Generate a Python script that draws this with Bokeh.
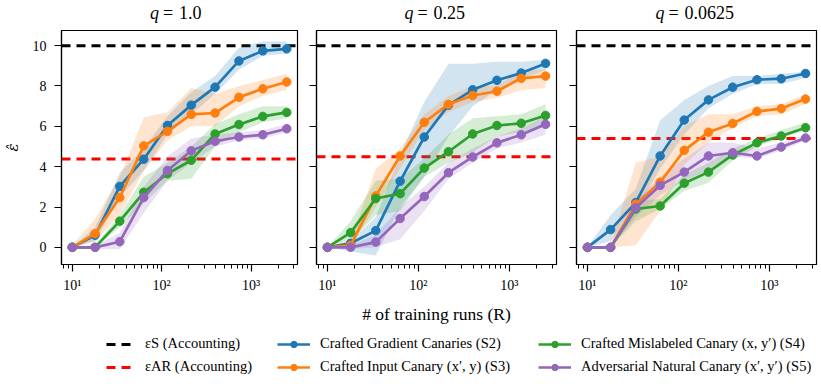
import math
from bokeh.plotting import figure
from bokeh.models import Range1d, FixedTicker, LogTicker, Span, Legend, LegendItem
from bokeh.core.properties import value
from bokeh.layouts import row, column
from bokeh.embed import file_html
from bokeh.resources import INLINE

# ---------------- data ----------------
runs = [10, 18, 34, 63, 116, 214, 395, 730, 1350, 2500]
q_labels = ["1.0", "0.25", "0.0625"]
eps_s = 10.0
eps_ar = [4.38, 4.49, 5.39]
y_ticks = [0, 2, 4, 6, 8, 10]

series_names = [
    "Crafted Gradient Canaries (S2)",
    "Crafted Input Canary (x′, y) (S3)",
    "Crafted Mislabeled Canary (x, y′) (S4)",
    "Adversarial Natural Canary (x′, y′) (S5)",
]
line_names = ["εS (Accounting)", "εAR (Accounting)"]
colors = ["#1f77b4", "#ff7f0e", "#2ca02c", "#9467bd"]

# q = 1.0
grad_q1 = [0, 0.60, 3.02, 4.37, 6.04, 7.05, 7.94, 9.24, 9.74, 9.84]
grad_q1_lo = [0, 0.30, 2.50, 3.80, 5.60, 6.60, 7.60, 8.80, 9.50, 9.60]
grad_q1_hi = [0, 1.00, 3.70, 4.90, 6.50, 7.70, 8.50, 9.90, 10.20, 10.20]
inp_q1 = [0, 0.68, 2.47, 5.03, 5.75, 6.59, 6.66, 7.44, 7.86, 8.20]
inp_q1_lo = [0, 0.30, 1.60, 3.80, 5.30, 6.00, 6.00, 7.00, 7.50, 7.80]
inp_q1_hi = [0.1, 1.40, 3.50, 6.45, 6.70, 7.90, 7.60, 8.00, 8.30, 8.60]
mis_q1 = [0, 0.0, 1.30, 2.73, 3.65, 4.32, 5.62, 6.09, 6.49, 6.69]
mis_q1_lo = [0, 0, 1.00, 2.20, 3.30, 3.40, 5.00, 5.70, 6.20, 6.40]
mis_q1_hi = [0, 0.1, 1.60, 3.50, 4.20, 5.00, 6.10, 6.60, 7.00, 7.00]
adv_q1 = [0, 0, 0.28, 2.47, 3.81, 4.79, 5.26, 5.47, 5.58, 5.88]
adv_q1_lo = [0, -0.1, -0.1, 1.70, 3.30, 4.20, 5.00, 5.30, 5.40, 5.70]
adv_q1_hi = [0, 0.1, 0.70, 3.00, 4.50, 5.40, 5.60, 5.70, 5.80, 6.10]

# q = 0.25
grad_q2 = [0, 0.20, 0.83, 3.28, 5.47, 7.05, 7.81, 8.28, 8.64, 9.12]
grad_q2_lo = [0, -0.2, -0.4, 2.00, 3.50, 5.50, 7.00, 7.80, 8.30, 8.80]
grad_q2_hi = [0, 0.3, 1.50, 4.60, 7.20, 9.10, 9.10, 9.20, 9.20, 9.30]
inp_q2 = [0, 0.10, 2.55, 4.53, 6.20, 7.09, 7.53, 7.74, 8.38, 8.49]
inp_q2_lo = [0, 0, 2.00, 3.90, 5.80, 6.70, 7.20, 7.40, 7.80, 7.90]
inp_q2_hi = [0, 0.3, 3.90, 4.90, 6.60, 7.50, 8.00, 8.00, 8.80, 8.80]
mis_q2 = [0, 0.73, 2.42, 2.66, 3.93, 4.74, 5.62, 6.04, 6.15, 6.54]
mis_q2_lo = [0, 0.30, 1.60, 1.80, 3.50, 4.20, 4.70, 5.50, 5.70, 6.00]
mis_q2_hi = [0, 1.30, 3.30, 3.40, 4.40, 5.60, 6.40, 6.50, 6.60, 7.10]
adv_q2 = [0, 0, 0.26, 1.43, 2.52, 3.70, 4.48, 5.18, 5.58, 6.10]
adv_q2_lo = [0, -0.1, 0, 0.40, 1.80, 3.40, 4.20, 4.90, 5.20, 5.60]
adv_q2_hi = [0, 0.1, 0.60, 2.00, 3.00, 4.20, 4.90, 5.50, 5.90, 6.50]

# q = 0.0625
grad_q3 = [0, 0.88, 2.22, 4.53, 6.31, 7.31, 7.94, 8.31, 8.36, 8.62]
grad_q3_lo = [0, 0.30, 1.80, 3.90, 5.60, 6.90, 7.60, 8.10, 8.10, 8.40]
grad_q3_hi = [0, 1.60, 2.90, 6.30, 7.30, 8.00, 8.50, 8.50, 8.60, 8.70]
inp_q3 = [0, 0, 2.14, 3.23, 4.81, 5.71, 6.14, 6.74, 6.88, 7.35]
inp_q3_lo = [0, 0, 0.10, 1.80, 4.10, 5.20, 5.90, 6.50, 6.60, 7.10]
inp_q3_hi = [0, 0.1, 4.20, 4.50, 6.00, 6.60, 6.60, 7.00, 7.10, 7.60]
mis_q3 = [0, 0, 1.90, 2.05, 3.18, 3.73, 4.58, 5.18, 5.52, 5.93]
mis_q3_lo = [0, 0, 1.30, 1.90, 2.80, 3.20, 4.30, 5.00, 5.40, 5.80]
mis_q3_hi = [0, 0, 2.30, 2.40, 3.60, 4.20, 4.90, 5.40, 5.80, 6.20]
adv_q3 = [0, 0, 1.96, 3.07, 3.73, 4.53, 4.69, 4.53, 4.97, 5.42]
adv_q3_lo = [0, 0, 1.50, 2.60, 3.30, 3.80, 4.50, 4.40, 4.80, 5.30]
adv_q3_hi = [0, 0.1, 2.30, 3.50, 4.40, 5.20, 5.20, 4.90, 5.20, 5.60]

panels = [
    [(grad_q1, grad_q1_lo, grad_q1_hi), (inp_q1, inp_q1_lo, inp_q1_hi),
     (mis_q1, mis_q1_lo, mis_q1_hi), (adv_q1, adv_q1_lo, adv_q1_hi)],
    [(grad_q2, grad_q2_lo, grad_q2_hi), (inp_q2, inp_q2_lo, inp_q2_hi),
     (mis_q2, mis_q2_lo, mis_q2_hi), (adv_q2, adv_q2_lo, adv_q2_hi)],
    [(grad_q3, grad_q3_lo, grad_q3_hi), (inp_q3, inp_q3_lo, inp_q3_hi),
     (mis_q3, mis_q3_lo, mis_q3_hi), (adv_q3, adv_q3_lo, adv_q3_hi)],
]

# ---------------- style ----------------
FONT = "Liberation Serif"
LX0, LX1 = 0.88, 3.518
X0, X1 = 10 ** LX0, 10 ** LX1
Y0, Y1 = -0.85, 10.75
FRAME_W, FRAME_H = 240, 238
borders = [(57, 10), (9, 10), (10, 3)]
TOP, BOTTOM = 2, 58
TITLE_H = 28
LEG_H = 60
DASH = "9 6"


def style_fig(p):
    p.background_fill_color = "white"
    p.border_fill_color = "white"
    p.xgrid.visible = False
    p.ygrid.visible = False


figs = []
centers = []
x_cursor = 0
for i, (q, ar, series) in enumerate(zip(q_labels, eps_ar, panels)):
    bl, br = borders[i]
    centers.append(x_cursor + bl + FRAME_W / 2)
    x_cursor += bl + FRAME_W + br
    p = figure(width=bl + FRAME_W + br, height=TOP + FRAME_H + BOTTOM,
               x_axis_type="log", x_range=Range1d(X0, X1), y_range=Range1d(Y0, Y1),
               output_backend="svg", toolbar_location=None, title=None,
               min_border_left=bl, min_border_right=br, min_border_top=TOP,
               min_border_bottom=BOTTOM)
    style_fig(p)
    p.outline_line_color = "black"
    p.outline_line_width = 1.2

    # axes
    p.xaxis.ticker = LogTicker(num_minor_ticks=10)
    p.xaxis.major_label_overrides = {10: "10¹", 100: "10²", 1000: "10³"}
    p.yaxis.ticker = FixedTicker(ticks=y_ticks, minor_ticks=[])
    for ax in (p.xaxis[0], p.yaxis[0]):
        ax.axis_line_color = "black"
        ax.axis_line_width = 1.2
        ax.major_tick_line_color = "black"
        ax.major_tick_line_width = 1.2
        ax.minor_tick_line_color = "black"
        ax.minor_tick_line_width = 1.0
        ax.major_tick_in = 0
        ax.major_tick_out = 7
        ax.minor_tick_in = 0
        ax.minor_tick_out = 4
        ax.major_label_text_font = FONT
        ax.major_label_text_font_size = "14px"
        ax.major_label_text_color = "black"
    p.xaxis.major_label_standoff = 6
    if i == 0:
        p.yaxis.major_label_standoff = 8
        p.yaxis.axis_label = "ε̂"
        p.yaxis.axis_label_text_font = "DejaVu Serif"
        p.yaxis.axis_label_text_font_style = "italic"
        p.yaxis.axis_label_text_font_size = "15px"
        p.yaxis.axis_label_text_color = "black"
        p.yaxis.axis_label_standoff = 8
    else:
        p.yaxis.major_label_overrides = {t: "" for t in y_ticks}
        p.yaxis.major_label_standoff = 0
    if i == 1:
        p.xaxis.axis_label = "# of training runs (R)"
        p.xaxis.axis_label_text_font = FONT
        p.xaxis.axis_label_text_font_style = "normal"
        p.xaxis.axis_label_text_font_size = "17.5px"
        p.xaxis.axis_label_standoff = 8
        p.xaxis.axis_label_text_color = "black"

    # reference lines
    p.add_layout(Span(location=eps_s, dimension="width", line_color="black",
                      line_width=3, line_dash=DASH, level="underlay"))
    p.add_layout(Span(location=ar, dimension="width", line_color="red",
                      line_width=3, line_dash=DASH, level="underlay"))

    # bands and lines
    for (vals, lo, hi), c in zip(series, colors):
        p.varea(x=runs, y1=lo, y2=hi, fill_color=c, fill_alpha=0.2)
    for (vals, lo, hi), c in zip(series, colors):
        p.line(runs, vals, line_color=c, line_width=2.7)
        p.scatter(runs, vals, size=8.5, fill_color=c, line_color=c)
    figs.append(p)

total_w = x_cursor

# ---------------- title strip ----------------
pt = figure(width=total_w, height=TITLE_H, x_range=Range1d(0, total_w),
            y_range=Range1d(0, TITLE_H), output_backend="svg",
            toolbar_location=None, title=None, x_axis_location=None,
            y_axis_location=None, min_border=0, min_border_left=0,
            min_border_right=0, min_border_top=0, min_border_bottom=0)
style_fig(pt)
pt.outline_line_color = None
ty = TITLE_H - 12
for q, xc in zip(q_labels, centers):
    ndig = sum(ch.isdigit() for ch in q)
    wv = 9 * ndig + 7
    eq_left = xc - (wv + 28) / 2 + 12
    pt.text(x=[eq_left - 4], y=[ty], text=["q"], text_align="right",
            text_baseline="middle", text_font=value(FONT), text_font_style="italic",
            text_font_size=value("18px"), text_color="black")
    pt.text(x=[eq_left], y=[ty], text=["="], text_align="left",
            text_baseline="middle", text_font=value(FONT),
            text_font_size=value("18px"), text_color="black")
    pt.text(x=[eq_left + 16], y=[ty], text=[q], text_align="left",
            text_baseline="middle", text_font=value(FONT),
            text_font_size=value("18px"), text_color="black")

# ---------------- legend strip ----------------
pl = figure(width=total_w, height=LEG_H, x_range=Range1d(0, 1), y_range=Range1d(0, 1),
            output_backend="svg", toolbar_location=None, title=None,
            x_axis_location=None, y_axis_location=None,
            min_border=0, min_border_left=0, min_border_right=0,
            min_border_top=0, min_border_bottom=0)
style_fig(pl)
pl.outline_line_color = None

# legend proxies: panel-1 data drawn outside this strip's visible range
r_s = pl.line(runs, [eps_s] * len(runs), line_color="black", line_width=3, line_dash=DASH)
r_ar = pl.line(runs, [eps_ar[0]] * len(runs), line_color="red", line_width=3, line_dash=DASH)
series_items = []
for name, c, (vals, lo, hi) in zip(series_names, colors, panels[0]):
    rl = pl.line(runs, vals, line_color=c, line_width=2.7)
    rs = pl.scatter(runs, vals, size=8.5, fill_color=c, line_color=c)
    series_items.append(LegendItem(label=name, renderers=[rl, rs]))

groups = [
    ([LegendItem(label=line_names[0], renderers=[r_s]),
      LegendItem(label=line_names[1], renderers=[r_ar])], 106, 28, 11),
    (series_items[0:2], 277, 33, 10),
    (series_items[2:4], 538, 33, 10),
]
for items, lx, gw, so in groups:
    leg = Legend(items=items, location=(lx, 11), orientation="vertical",
                 glyph_width=gw, glyph_height=16, label_height=16,
                 label_standoff=so, spacing=6, padding=0, margin=0,
                 border_line_alpha=0, background_fill_alpha=0,
                 label_text_font=FONT, label_text_font_size="14.5px",
                 label_text_color="black")
    pl.add_layout(leg)

layout = column(pt, row(*figs, spacing=0), pl, spacing=0)

open("out.html", "w").write(file_html(layout, INLINE))
